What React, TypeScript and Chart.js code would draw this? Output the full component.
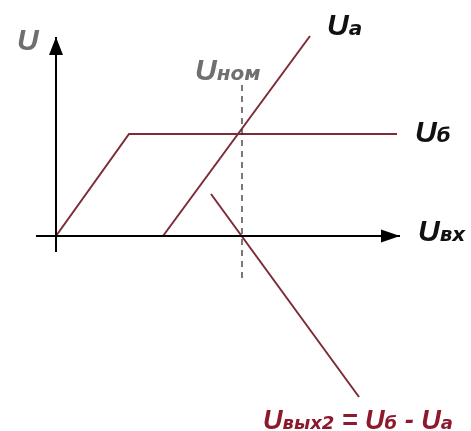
import React, { useEffect, useRef } from "react";
import { Chart, registerables } from "chart.js";

Chart.register(...registerables);

// Data (units: origin at axes crossing, 1 unit ≈ one tenth of the drawing)
const ubX = [0, 7.3, 34.1];
const ubY = [0, 10.2, 10.2];
const uaX = [10.7, 25.4];
const uaY = [0, 20.0];
const uoutX = [15.5, 30.3];
const uoutY = [4.2, -16.1];
const uNom = 18.6;
const nomY = [15.1, -4.6];
const xAxisX = [-2.0, 34.4];
const yAxisY = [-1.6, 19.9];
const xRange = [-5.6, 41.5];
const yRange = [-19.5, 23.6];

const RED = "#7e2b38";
const TEXT_RED = "#8c1a2c";
const GRAY = "#6f6f6f";
const FONT = '"Liberation Sans", Arial, sans-serif';
const SUB_FONT = '"DejaVu Sans", sans-serif';

const pts = (xs: number[], ys: number[]) => xs.map((x, i) => ({ x, y: ys[i] }));

type Part = { t: string; size: number; sub?: boolean };

function drawLabel(ctx: CanvasRenderingContext2D, x: number, y: number, parts: Part[], color: string) {
  ctx.save();
  ctx.fillStyle = color;
  ctx.textBaseline = "alphabetic";
  ctx.textAlign = "left";
  let cx = x;
  for (const p of parts) {
    ctx.font = `italic bold ${p.size}px ${p.sub ? SUB_FONT : FONT}`;
    ctx.fillText(p.t, cx, y);
    cx += ctx.measureText(p.t).width;
  }
  ctx.restore();
}

const overlay = {
  id: "overlay",
  afterDatasetsDraw(chart: any) {
    const { ctx, scales } = chart;
    const sx = scales.x, sy = scales.y;
    const px = (v: number) => sx.getPixelForValue(v);
    const py = (v: number) => sy.getPixelForValue(v);
    ctx.save();
    ctx.fillStyle = "#000";
    // x-axis arrow
    const xt = px(xAxisX[1]);
    const y0 = py(0);
    ctx.beginPath();
    ctx.moveTo(xt, y0);
    ctx.lineTo(xt - 19, y0 - 6.5);
    ctx.lineTo(xt - 19, y0 + 6.5);
    ctx.closePath();
    ctx.fill();
    // y-axis arrow
    const yt = py(yAxisY[1]);
    const x0 = px(0);
    ctx.beginPath();
    ctx.moveTo(x0, yt);
    ctx.lineTo(x0 - 7, yt + 18);
    ctx.lineTo(x0 + 7, yt + 18);
    ctx.closePath();
    ctx.fill();
    ctx.restore();

    const M = 30, S = 20;
    drawLabel(ctx, x0 - 39, yt + 13, [{ t: "U", size: M }], GRAY);
    drawLabel(ctx, px(uaX[1]) + 17, py(uaY[1]) - 1, [{ t: "U", size: M }, { t: "а", size: S, sub: true }], "#111");
    drawLabel(ctx, px(ubX[2]) + 18, py(ubY[2]) + 8, [{ t: "U", size: M }, { t: "б", size: S, sub: true }], "#111");
    drawLabel(ctx, xt + 18, y0 + 5, [{ t: "U", size: M }, { t: "вх", size: S, sub: true }], "#111");
    drawLabel(ctx, px(uNom) - 47, py(nomY[0]) - 5, [{ t: "U", size: M }, { t: "ном", size: S, sub: true }], GRAY);
    const F = 27, FS = 18;
    drawLabel(
      ctx,
      px(uoutX[1]) - 96,
      py(uoutY[1]) + 32,
      [
        { t: "U", size: F },
        { t: "вых2", size: FS, sub: true },
        { t: " = ", size: F },
        { t: "U", size: F },
        { t: "б", size: FS, sub: true },
        { t: " - ", size: F },
        { t: "U", size: F },
        { t: "а", size: FS, sub: true },
      ],
      TEXT_RED
    );
  },
};

export default function App() {
  const ref = useRef<HTMLCanvasElement>(null);
  useEffect(() => {
    if (!ref.current) return;
    const line = (data: any, color: string, width: number, dash: number[] = []) => ({
      data,
      showLine: true,
      borderColor: color,
      borderWidth: width,
      borderDash: dash,
      pointRadius: 0,
      fill: false,
      tension: 0,
    });
    const chart = new Chart(ref.current, {
      type: "scatter",
      data: {
        datasets: [
          line(pts(xAxisX, [0, 0]), "#000", 2),
          line(pts([0, 0], yAxisY), "#000", 2),
          line(pts([uNom, uNom], nomY), "#333", 1.3, [6, 5]),
          line(pts(ubX, ubY), RED, 2),
          line(pts(uaX, uaY), RED, 2),
          line(pts(uoutX, uoutY), RED, 2),
        ],
      },
      options: {
        animation: false,
        responsive: false,
        devicePixelRatio: 1,
        layout: { padding: 0 },
        plugins: { legend: { display: false }, tooltip: { enabled: false } },
        scales: {
          x: { type: "linear", display: false, min: xRange[0], max: xRange[1] },
          y: { type: "linear", display: false, min: yRange[0], max: yRange[1] },
        },
      },
      plugins: [overlay],
    });
    return () => chart.destroy();
  }, []);
  return (
    <div style={{ position: "fixed", left: 0, top: 0, width: 471, height: 431, background: "#fff" }}>
      <canvas ref={ref} width={471} height={431} />
    </div>
  );
}
